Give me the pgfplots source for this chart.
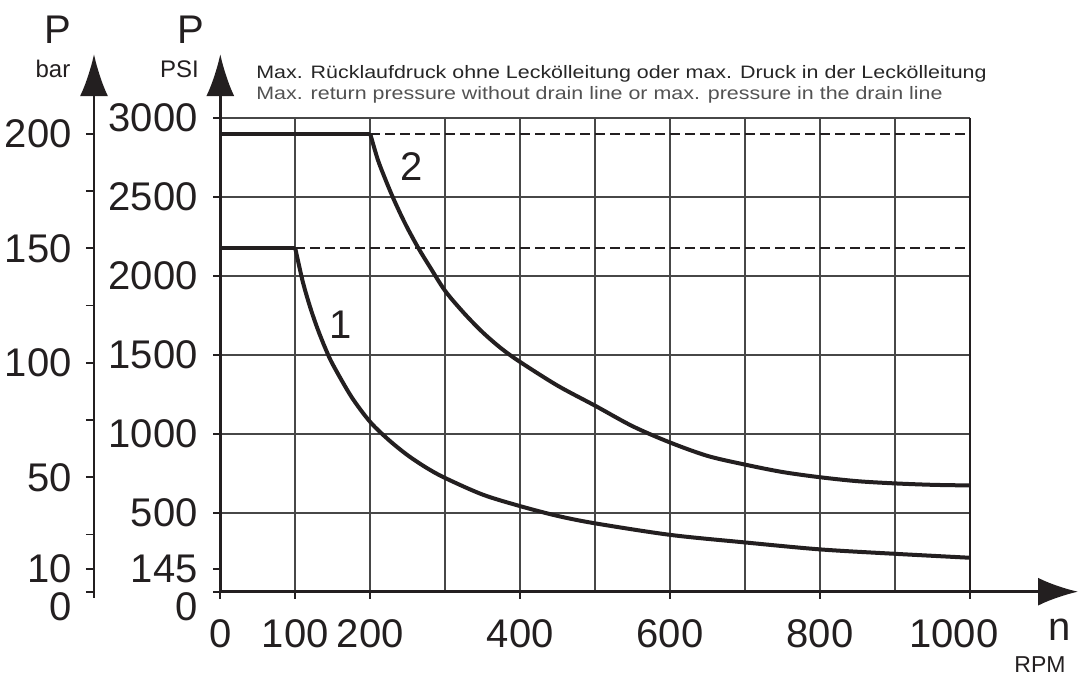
\documentclass[border=0pt]{standalone}
\usepackage{fontspec}
\setmainfont{Liberation Sans}
\newfontfamily\titlefont{Liberation Sans}[FakeStretch=1.19]
\usepackage{pgfplots}
\pgfplotsset{compat=1.18}
\usetikzlibrary{arrows.meta}
\definecolor{ink}{HTML}{231F20}
\begin{document}
\begin{tikzpicture}
\useasboundingbox (-110.15pt,-41.65pt) rectangle (429.85pt,295.85pt);
% bar axis
\begin{axis}[
  at={(-63.15pt,0pt)}, anchor=south west,
  scale only axis, width=10pt, height=236.8pt,
  xmin=0, xmax=1, ymin=0, ymax=206.897,
  axis y line=left, axis x line=none,
  y axis line style={line width=1.3pt, color=ink, -{Latex[length=21pt,width=14pt]}, shorten >=-32pt, shorten <=-3pt},
  tick align=outside,
  major tick length=4pt, minor tick length=4pt,
  tick style={line width=0.9pt, color=ink},
  ytick={0,10,50,100,150,200},
  yticklabels={{\raisebox{-7.2pt}[\height][0pt]{0}},10,50,100,150,200},
  minor ytick={25,75,125,175},
  yticklabel style={anchor=east, inner sep=0pt, xshift=-7pt, font=\fontsize{20}{24}\selectfont, text=ink},
]
\addplot[draw=none] coordinates {(0,0)(1,200)};
\end{axis}
% main axis
\begin{axis}[
  at={(0pt,0pt)}, anchor=south west,
  scale only axis, width=374.85pt, height=236.8pt,
  xmin=0, xmax=1000, ymin=0, ymax=3000,
  axis x line=bottom, axis y line=left,
  clip=false,
  x axis line style={line width=1.3pt, color=ink, -{Latex[length=20pt,width=14pt]}, shorten >=-54pt},
  y axis line style={line width=1.3pt, color=ink, -{Latex[length=21pt,width=14pt]}, shorten >=-32pt},
  tick align=outside,
  major tick length=3.5pt, minor tick length=0pt,
  tick style={line width=0.9pt, color=ink},
  xtick={0,100,200,400,600,800,1000},
  xticklabels={0,100,200,400,600,800,{1000\kern16pt}},
  minor xtick={300,500,700,900},
  ytick={0,500,1000,1500,2000,2500,3000},
  yticklabels={{\raisebox{-7.2pt}[\height][0pt]{0}},500,1000,1500,2000,2500,3000},
  extra y ticks={145}, extra y tick labels={145},
  extra y tick style={grid=none},
  grid=both,
  major grid style={line width=0.85pt, color=black!72},
  minor grid style={line width=0.85pt, color=black!72},
  xticklabel style={anchor=base, inner sep=0pt, yshift=-24.6pt, font=\fontsize{20}{24}\selectfont, text=ink},
  yticklabel style={anchor=east, inner sep=0pt, xshift=-7.6pt, font=\fontsize{20}{24}\selectfont, text=ink},
]
% right border at 1000
\addplot[ink, line width=1.3pt] coordinates {(1000,0)(1000,3000)};
% dashed limit lines
\addplot[ink, line width=0.9pt, dash pattern=on 5pt off 2.5pt] coordinates {(200,2900)(1000,2900)};
\addplot[ink, line width=0.9pt, dash pattern=on 5pt off 2.5pt] coordinates {(0,2175)(1000,2175)};
% curve 1
\addplot[ink, line width=2pt] coordinates {(0,2175)(100,2175)};
\addplot[ink, line width=2pt, smooth, tension=0.5] coordinates {
  (100,2175)(110,1964)(120,1800)(130,1662)(140,1543)(150,1440)(175,1234)(200,1075)(225,960)(250,864)(275,785)(300,720)(350,615)(400,542)(450,480)(500,433)(600,360)(700,312)(800,268)(900,240)(1000,215)};
% curve 2
\addplot[ink, line width=2pt] coordinates {(0,2900)(200,2900)};
\addplot[ink, line width=2pt, smooth, tension=0.5] coordinates {
  (200,2900)(210,2738)(220,2614)(230,2500)(240,2396)(250,2300)(265,2170)(280,2054)(300,1905)(325,1765)(350,1643)(375,1540)(400,1455)(450,1305)(500,1178)(550,1048)(600,945)(650,860)(700,805)(750,758)(800,725)(850,700)(900,686)(950,677)(1000,673)};
\node[font=\fontsize{20}{24}\selectfont, text=ink] at (axis cs:160,1694) {1};
\node[font=\fontsize{20}{24}\selectfont, text=ink] at (axis cs:255,2695) {2};
\end{axis}
% texts
\node[anchor=base west, inner sep=0pt, font=\titlefont\fontsize{9}{11}\selectfont, text=black!85] at (17.85pt,256.7pt) {Max. Rücklaufdruck ohne Leckölleitung oder max. Druck in der Leckölleitung};
\node[anchor=base west, inner sep=0pt, font=\titlefont\fontsize{9}{11}\selectfont, text=black!68] at (17.85pt,245.85pt) {Max. return pressure without drain line or max. pressure in the drain line};
\node[anchor=base, inner sep=0pt, font=\fontsize{20}{24}\selectfont, text=ink] at (-81.15pt,273.85pt) {P};
\node[anchor=base, inner sep=0pt, font=\fontsize{12}{14}\selectfont, text=ink] at (-83.65pt,256.85pt) {bar};
\node[anchor=base, inner sep=0pt, font=\fontsize{20}{24}\selectfont, text=ink] at (-14.65pt,273.85pt) {P};
\node[anchor=base, inner sep=0pt, font=\fontsize{12}{14}\selectfont, text=ink] at (-20.4pt,256.85pt) {PSI};
\node[anchor=base, inner sep=0pt, font=\fontsize{20}{24}\selectfont, text=ink] at (419.85pt,-24.15pt) {n};
\node[anchor=base, inner sep=0pt, font=\fontsize{11.5}{13}\selectfont, text=ink] at (409.85pt,-40.15pt) {RPM};
\end{tikzpicture}
\end{document}
